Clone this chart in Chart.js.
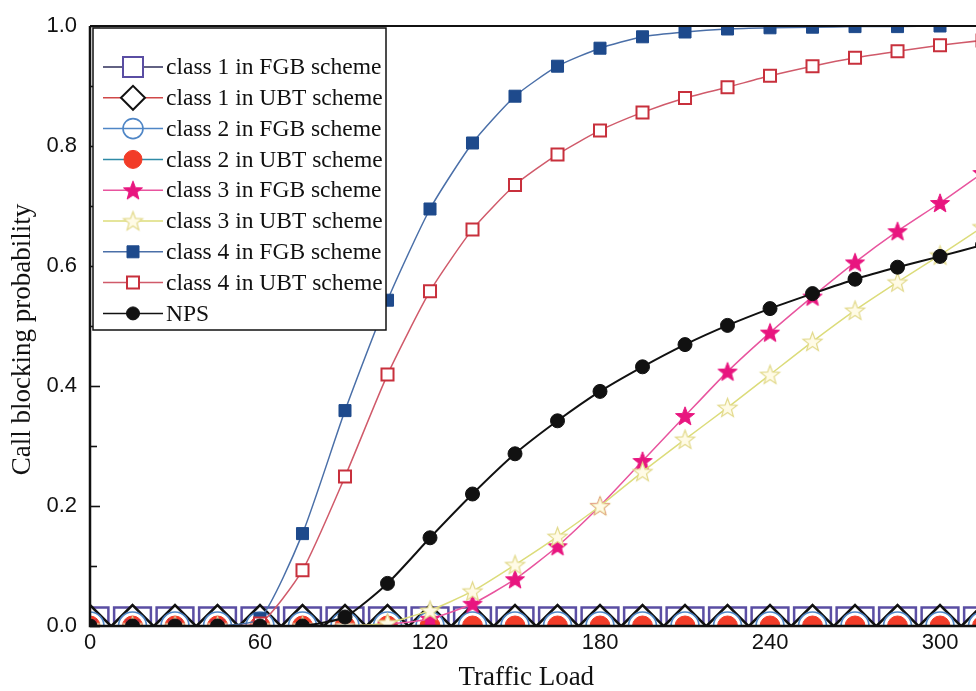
<!DOCTYPE html>
<html>
<head>
<meta charset="utf-8">
<script src="https://cdn.jsdelivr.net/npm/chart.js"></script>
<style>
  html, body { margin: 0; padding: 0; background: #fff; overflow: hidden; }
  #wrap { width: 976px; height: 691px; position: relative; }
  canvas { display: block; }
</style>
</head>
<body>
<div id="wrap"><canvas id="chart"></canvas></div>
<script>
// traffic load (x)
const loads = [0, 15, 30, 45, 60, 75, 90, 105, 120, 135, 150, 165, 180, 195, 210, 225, 240, 255, 270, 285, 300, 315];

// call blocking probability per scheme
const class1Fgb = [0, 0, 0, 0, 0, 0, 0, 0, 0, 0, 0, 0, 0, 0, 0, 0, 0, 0, 0, 0, 0, 0];
const class1Ubt = [0, 0, 0, 0, 0, 0, 0, 0, 0, 0, 0, 0, 0, 0, 0, 0, 0, 0, 0, 0, 0, 0];
const class2Fgb = [0, 0, 0, 0, 0, 0, 0, 0, 0, 0, 0, 0, 0, 0, 0, 0, 0, 0, 0, 0, 0, 0];
const class2Ubt = [0, 0, 0, 0, 0, 0, 0, 0, 0, 0, 0, 0, 0, 0, 0, 0, 0, 0, 0, 0, 0, 0];
const class3Fgb = [0, 0, 0, 0, 0, 0, 0, 0.003, 0.012, 0.037, 0.078, 0.133, 0.2, 0.275, 0.35, 0.424, 0.489, 0.549, 0.606, 0.658, 0.705, 0.755];
const class3Ubt = [0, 0, 0, 0, 0, 0, 0, 0.005, 0.026, 0.058, 0.102, 0.149, 0.2, 0.257, 0.311, 0.364, 0.419, 0.474, 0.526, 0.573, 0.618, 0.665];
const class4Fgb = [0, 0, 0, 0, 0.012, 0.154, 0.359, 0.543, 0.695, 0.805, 0.883, 0.933, 0.963, 0.982, 0.99, 0.995, 0.997, 0.998, 0.999, 0.999, 1.0, 1.0];
const class4Ubt = [0, 0, 0, 0, 0.004, 0.093, 0.249, 0.419, 0.558, 0.661, 0.735, 0.786, 0.826, 0.856, 0.88, 0.898, 0.917, 0.933, 0.947, 0.958, 0.968, 0.976];
const nps = [0, 0, 0, 0, 0, 0, 0.015, 0.071, 0.147, 0.22, 0.287, 0.342, 0.391, 0.432, 0.469, 0.501, 0.529, 0.554, 0.578, 0.598, 0.616, 0.635];

const names = [
  "class 1 in FGB scheme", "class 1 in UBT scheme",
  "class 2 in FGB scheme", "class 2 in UBT scheme",
  "class 3 in FGB scheme", "class 3 in UBT scheme",
  "class 4 in FGB scheme", "class 4 in UBT scheme",
  "NPS"
];
const series = [class1Fgb, class1Ubt, class2Fgb, class2Ubt, class3Fgb, class3Ubt, class4Fgb, class4Ubt, nps];

const xTicks = [0, 60, 120, 180, 240, 300];
const yTicks = [0, 0.2, 0.4, 0.6, 0.8, 1.0];

// filled / open star as an image (chart.js has no 5-point star)
const makeStar = (r, fill, stroke, lw) => {
  const cv = document.createElement("canvas");
  cv.width = cv.height = Math.ceil(2 * (r + lw + 1));
  const g = cv.getContext("2d");
  const c = cv.width / 2;
  g.beginPath();
  for (let k = 0; k < 10; k++) {
    const rr = k % 2 ? r * 0.42 : r;
    const a = -Math.PI / 2 + (k * Math.PI) / 5;
    g.lineTo(c + rr * Math.cos(a), c + rr * Math.sin(a) + r * 0.08);
  }
  g.closePath();
  g.fillStyle = fill;
  g.fill();
  g.lineWidth = lw;
  g.strokeStyle = stroke;
  g.stroke();
  return cv;
};

// look of each series: line colour, marker, plot radius, legend size
const looks = [
  { line: "#2e2e5a", style: "rect", r: 26, fill: "#ffffff", edge: "#5a4ea3", bw: 2.5, lw: 1.5, ls: 10 },
  { line: "#d04848", style: "rectRot", r: 21, fill: "#ffffff", edge: "#111111", bw: 2.5, lw: 1.5, ls: 12 },
  { line: "#4f86c6", style: "circle", r: 14, fill: "rgba(0,0,0,0)", edge: "#4f86c6", bw: 1.6, lw: 1.5, ls: 10 },
  { line: "#2f8aa6", style: "circle", r: 10, fill: "#f23c28", edge: "#f23c28", bw: 1, lw: 1.5, ls: 9 },
  { line: "#e8549e", style: makeStar(10, "#e8157f", "#e8157f", 1), r: 10, fill: "#e8157f", edge: "#e8157f", bw: 1, lw: 1.5, ls: 0, legendImg: makeStar(10, "#e8157f", "#e8157f", 1) },
  { line: "#dcdc7a", style: makeStar(10, "#fffbe6", "#e2d98a", 1.2), r: 10, fill: "#fffbe6", edge: "#e2d98a", bw: 1, lw: 1.5, ls: 0, legendImg: makeStar(10, "#fffbe6", "#e2d98a", 1.2) },
  { line: "#4a6fa8", style: "rect", r: 8.5, fill: "#1e4a8c", edge: "#1e4a8c", bw: 1, lw: 1.5, ls: 6 },
  { line: "#d05a6a", style: "rect", r: 8.5, fill: "#ffffff", edge: "#c8303c", bw: 2, lw: 1.5, ls: 6 },
  { line: "#111111", style: "circle", r: 7, fill: "#111111", edge: "#111111", bw: 1, lw: 2, ls: 6.5 }
];

const datasets = series.map((vals, i) => ({
  label: names[i],
  data: vals.map((v, j) => ({ x: loads[j], y: v })),
  borderColor: looks[i].line,
  borderWidth: looks[i].lw,
  backgroundColor: looks[i].fill,
  pointStyle: looks[i].style,
  pointRadius: looks[i].r,
  pointBackgroundColor: looks[i].fill,
  pointBorderColor: looks[i].edge,
  pointBorderWidth: looks[i].bw,
  tension: 0.2,
  clip: 1,
  order: series.length - i
}));

// axes frame with inward ticks (origin style)
const framePlugin = {
  id: "frame",
  afterDatasetsDraw(chart) {
    const { ctx, chartArea: a, scales } = chart;
    ctx.save();
    ctx.strokeStyle = "#111";
    ctx.lineWidth = 1.6;
    for (let v = 0; v <= 1.0001; v += 0.1) {
      const y = Math.round(scales.y.getPixelForValue(v)) + 0.5;
      const major = Math.round(v * 10) % 2 === 0;
      ctx.beginPath();
      ctx.moveTo(a.left, y);
      ctx.lineTo(a.left + (major ? 10 : 7), y);
      ctx.stroke();
    }
    ctx.lineWidth = 2.5;
    ctx.beginPath();
    ctx.moveTo(a.left, a.top);
    ctx.lineTo(a.left, a.bottom);
    ctx.lineTo(a.right, a.bottom);
    ctx.stroke();
    ctx.lineWidth = 2;
    ctx.beginPath();
    ctx.moveTo(a.left, a.top);
    ctx.lineTo(a.right, a.top);
    ctx.stroke();
    ctx.restore();
  }
};

// legend box in the top-left corner of the plot
const legendPlugin = {
  id: "boxLegend",
  afterDraw(chart) {
    const { ctx } = chart;
    const bx = 93, by = 28, bw = 293, bh = 302;
    ctx.save();
    ctx.fillStyle = "#fff";
    ctx.fillRect(bx, by, bw, bh);
    ctx.strokeStyle = "#111";
    ctx.lineWidth = 1.5;
    ctx.strokeRect(bx, by, bw, bh);
    names.forEach((name, i) => {
      const lk = looks[i];
      const y = 67 + i * 30.8;
      ctx.strokeStyle = lk.line;
      ctx.lineWidth = 1.5;
      ctx.beginPath();
      ctx.moveTo(103, y);
      ctx.lineTo(163, y);
      ctx.stroke();
      const mx = 133, s = lk.ls;
      ctx.fillStyle = lk.fill;
      ctx.strokeStyle = lk.edge;
      ctx.lineWidth = Math.min(lk.bw, 2);
      if (lk.legendImg) {
        ctx.drawImage(lk.legendImg, mx - lk.legendImg.width / 2, y - lk.legendImg.height / 2);
      } else {
        ctx.beginPath();
        if (lk.style === "rect") {
          ctx.rect(mx - s, y - s, 2 * s, 2 * s);
        } else if (lk.style === "rectRot") {
          ctx.moveTo(mx - s, y);
          ctx.lineTo(mx, y - s);
          ctx.lineTo(mx + s, y);
          ctx.lineTo(mx, y + s);
          ctx.closePath();
        } else {
          ctx.arc(mx, y, s, 0, Math.PI * 2);
        }
        ctx.fill();
        ctx.stroke();
      }
      ctx.fillStyle = "#111";
      ctx.font = "23.5px 'Liberation Serif'";
      ctx.textAlign = "left";
      ctx.textBaseline = "middle";
      ctx.fillText(name, 166, y + 1);
    });
    ctx.restore();
  }
};

new Chart(document.getElementById("chart"), {
  type: "line",
  data: { datasets },
  options: {
    responsive: true,
    maintainAspectRatio: false,
    animation: false,
    layout: { autoPadding: false, padding: { top: 26, right: 0, bottom: 0, left: 0 } },
    plugins: { legend: { display: false }, tooltip: { enabled: false } },
    scales: {
      x: {
        type: "linear",
        min: 0,
        max: 312.7,
        afterFit: (s) => { s.height = 65; s.paddingRight = 0; s.paddingLeft = 0; },
        afterBuildTicks: (s) => { s.ticks = xTicks.map((v) => ({ value: v })); },
        grid: { display: false, drawTicks: false },
        border: { display: false },
        ticks: { padding: 4, color: "#111", font: { family: "'Liberation Sans'", size: 22 } },
        title: {
          display: true,
          text: "Traffic Load  ",
          color: "#111",
          padding: 0,
          font: { family: "'Liberation Serif'", size: 27, lineHeight: 1 }
        }
      },
      y: {
        min: 0,
        max: 1,
        afterFit: (s) => { s.width = 90; s.paddingTop = 0; s.paddingBottom = 0; },
        afterBuildTicks: (s) => { s.ticks = yTicks.map((v) => ({ value: v })); },
        grid: { display: false, drawTicks: false },
        border: { display: false },
        ticks: {
          padding: 13,
          color: "#111",
          font: { family: "'Liberation Sans'", size: 22 },
          callback: (v) => v.toFixed(1)
        },
        title: {
          display: true,
          text: "Call blocking probability    ",
          color: "#111",
          padding: { top: 7, bottom: 0 },
          font: { family: "'Liberation Serif'", size: 27, lineHeight: 1.2 }
        }
      }
    }
  },
  plugins: [framePlugin, legendPlugin]
});
</script>
</body>
</html>
